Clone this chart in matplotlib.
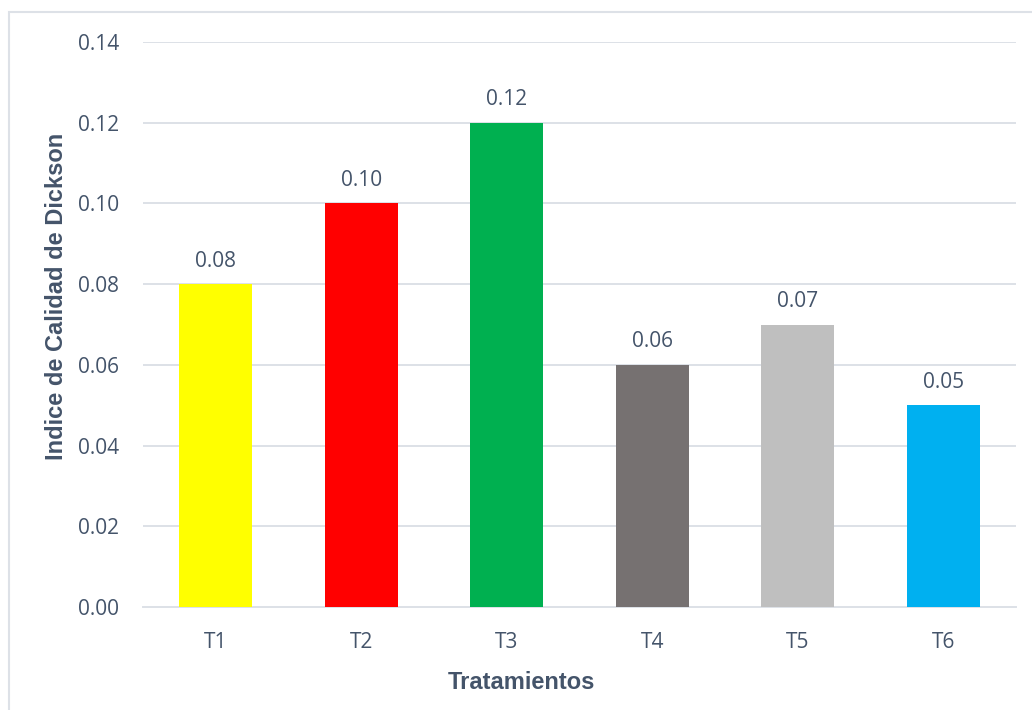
import matplotlib
matplotlib.use('Agg')
import matplotlib.pyplot as plt
from matplotlib.patches import Rectangle

tratamientos = ['T1', 'T2', 'T3', 'T4', 'T5', 'T6']
indice_dickson = [0.08, 0.10, 0.12, 0.06, 0.07, 0.05]
colores = ['#FFFF00', '#FF0000', '#00B050', '#767171', '#BFBFBF', '#00B0F0']
y_ticks = [0.00, 0.02, 0.04, 0.06, 0.08, 0.10, 0.12, 0.14]

texto = '#44546A'
gris_lineas = '#DDE1E7'

fig = plt.figure(figsize=(10.32, 7.10), dpi=100)
ax = fig.add_axes([0.1386, 0.1451, 0.8459, 0.7957])

# marco exterior del grafico
fig.patches.append(Rectangle((9 / 1032, -0.1), 1.2, 1 - 12 / 710 + 0.1,
                             transform=fig.transFigure, fill=False,
                             edgecolor=gris_lineas, linewidth=1.5))

x = range(len(tratamientos))
barras = ax.bar(x, indice_dickson, width=0.5, color=colores, zorder=3)

for xi, v in zip(x, indice_dickson):
    ax.annotate('{:.2f}'.format(v), xy=(xi, v), xytext=(0, 16.5),
                textcoords='offset points', ha='center', va='center',
                fontsize=15, color=texto, family='Open Sans')

ax.set_xlim(-0.5, len(tratamientos) - 0.5)
ax.set_ylim(0, 0.14)
ax.set_yticks(y_ticks)
ax.set_yticklabels(['{:.2f}'.format(t) for t in y_ticks])
ax.set_xticks(list(x))
ax.set_xticklabels(tratamientos)
ax.tick_params(axis='both', length=0, labelsize=15, colors=texto)
ax.tick_params(axis='y', pad=17)
ax.tick_params(axis='x', pad=18)
for lbl in ax.get_xticklabels() + ax.get_yticklabels():
    lbl.set_family('Open Sans')

ax.grid(axis='y', color=gris_lineas, linewidth=1.4, zorder=0)
for s in ['top', 'right', 'left']:
    ax.spines[s].set_visible(False)
ax.spines['bottom'].set_color(gris_lineas)
ax.spines['bottom'].set_linewidth(1.4)

# titulos de los ejes, algo desplazados del centro del area de trazado
ax.set_ylabel('Indice de Calidad de Dickson', fontsize=17, fontweight='bold',
              color=texto, family='Liberation Sans', va='center')
ax.yaxis.set_label_coords(-0.099, 0.549)
ax.set_xlabel('Tratamientos', fontsize=17, fontweight='bold',
              color=texto, family='Liberation Sans', va='center')
ax.xaxis.set_label_coords(0.433, -0.133)

plt.savefig('out.png', dpi=100)
plt.close(fig)
